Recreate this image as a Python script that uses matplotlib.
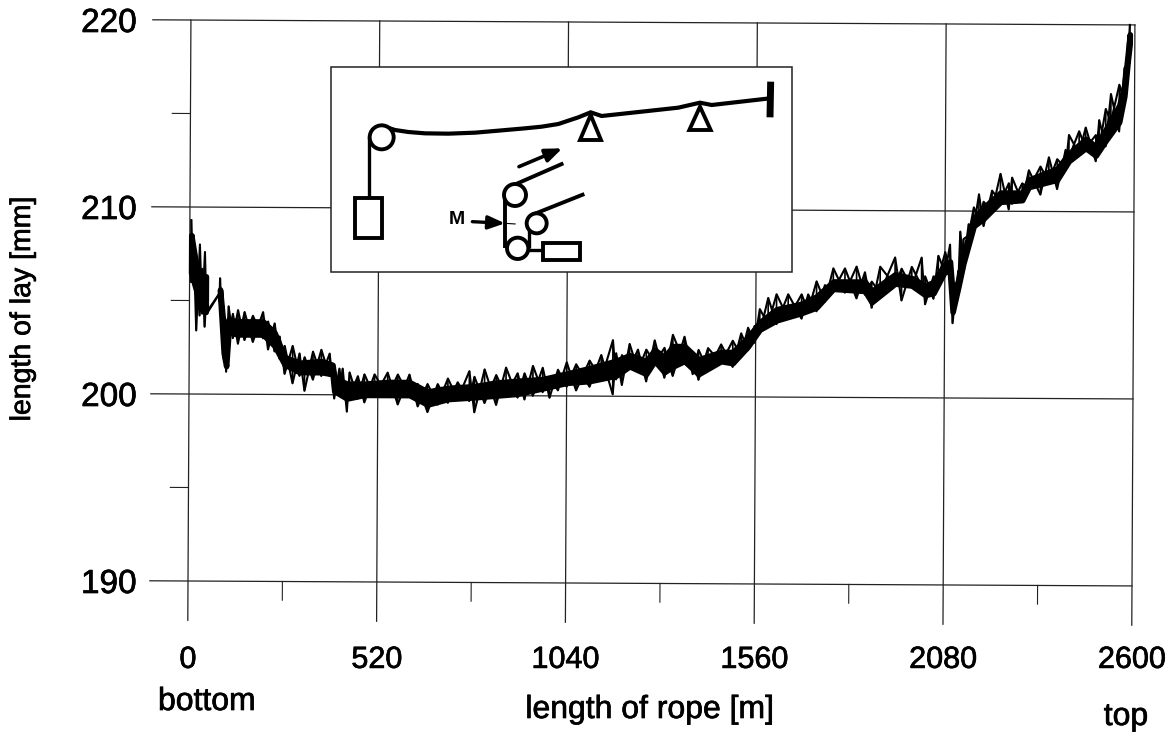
import matplotlib
matplotlib.use('Agg')
import matplotlib.pyplot as plt
import matplotlib.patheffects as pe
from matplotlib.patches import Circle, Rectangle, Polygon
from matplotlib.transforms import Affine2D

plt.rcParams['font.family'] = ['Liberation Sans', 'DejaVu Sans']

x_major = [0, 520, 1040, 1560, 2080, 2600]
x_minor = [260, 780, 1300, 1820, 2340]
y_major = [190, 200, 210, 220]
y_minor = [195, 205, 215]

# noise hairs: length of rope [m], with the upper and lower reach of the trace [mm]
rope = [4, 10, 19, 28, 35, 42, 47, 48, 83, 84, 88, 95, 102, 108, 120, 134, 152, 175, 203, 217,
        235, 249, 263, 285, 304, 318, 341, 364, 387, 400, 414, 423, 435, 442, 465, 483, 511, 547,
        575, 607, 630, 657, 685, 713, 740, 772, 786, 814, 846, 873, 905, 924, 947, 974, 993, 1016,
        1040, 1066, 1103, 1135, 1167, 1176, 1192, 1213, 1236, 1259, 1282, 1309, 1332, 1364, 1387,
        1403, 1429, 1465, 1497, 1520, 1539, 1557, 1571, 1594, 1617, 1649, 1686, 1704, 1727, 1750,
        1773, 1805, 1837, 1860, 1879, 1902, 1943, 1961, 1989, 2016, 2026, 2049, 2062, 2081, 2094,
        2102, 2117, 2122, 2131, 2145, 2159, 2173, 2186, 2209, 2232, 2255, 2264, 2292, 2310, 2342,
        2365, 2388, 2411, 2420, 2448, 2466, 2494, 2503, 2521, 2535, 2558, 2572, 2581, 2586]
lay_upper = [209.3, 208.5, 207.2, 208.0, 206.7, 207.6, 205.3, 204.4, 205.4, 206.2, 205.6, 204.0, 203.3,
             204.7, 204.3, 204.5, 204.4, 204.2, 204.4, 203.9, 203.8, 203.1, 202.6, 202.6, 202.2, 202.0,
             202.3, 202.4, 202.2, 201.5, 201.4, 201.4, 200.6, 201.2, 201.0, 201.1, 201.1, 201.2, 201.1,
             201.1, 200.6, 200.6, 200.6, 200.9, 200.7, 201.3, 201.0, 201.4, 201.1, 201.5, 201.2, 201.2,
             201.6, 201.5, 201.0, 201.4, 201.8, 201.7, 201.9, 202.2, 203.0, 202.3, 202.2, 202.8, 202.5,
             202.5, 203.0, 202.6, 203.3, 203.2, 202.2, 202.5, 202.6, 202.8, 203.0, 203.4, 203.7, 203.8,
             204.7, 205.3, 205.5, 205.5, 205.5, 205.5, 206.2, 206.0, 206.9, 206.9, 207.0, 206.7, 206.2,
             207.0, 207.5, 206.9, 207.0, 207.5, 206.5, 206.5, 207.6, 207.8, 208.2, 205.9, 206.8, 208.9,
             208.5, 209.3, 210.2, 210.9, 210.5, 211.1, 212.0, 211.5, 211.8, 211.5, 212.2, 212.4, 212.9,
             212.8, 213.3, 214.1, 214.3, 214.5, 214.1, 214.9, 215.5, 216.3, 216.8, 217.7, 219.1, 220.0]
lay_lower = [206.0, 205.9, 203.4, 204.2, 204.3, 203.6, 204.3, 204.3, 205.4, 205.4, 204.6, 201.9, 201.2,
             203.2, 203.0, 202.7, 202.9, 202.8, 203.0, 202.4, 202.3, 201.9, 201.1, 200.6, 201.0, 200.2,
             200.8, 201.0, 201.0, 199.8, 200.2, 200.0, 199.1, 199.9, 199.8, 199.6, 199.9, 199.9, 199.5,
             199.9, 199.4, 199.1, 199.5, 199.6, 199.8, 199.7, 199.1, 199.6, 199.5, 200.0, 199.9, 199.8,
             200.0, 200.2, 199.9, 200.3, 200.5, 200.3, 200.5, 200.9, 200.1, 200.9, 200.6, 201.5, 201.4,
             200.8, 201.8, 201.0, 201.1, 201.8, 201.2, 200.9, 201.4, 201.8, 201.6, 202.2, 202.5, 202.9,
             203.4, 203.9, 203.9, 204.2, 204.2, 204.6, 204.6, 205.1, 205.7, 205.6, 205.3, 205.5, 204.8,
             205.6, 206.0, 205.2, 205.9, 206.0, 205.0, 205.3, 206.4, 206.7, 206.6, 204.0, 205.9, 205.9,
             207.1, 208.7, 209.1, 209.6, 209.2, 210.0, 210.5, 210.1, 210.4, 210.5, 211.2, 210.9, 211.6,
             211.2, 212.3, 212.9, 213.1, 213.4, 212.7, 213.4, 213.5, 214.8, 214.3, 215.9, 217.9, 218.6]

# solid body of the trace, in two stretches either side of the gap bridged by a thin line
core_x = [4, 19, 30, 45, 84, 95, 102, 108, 134, 203, 235, 263, 304, 364, 395, 400, 435, 483,
          547, 607, 657, 713, 786, 846, 905, 974, 1040, 1103, 1176, 1213, 1259, 1282, 1309, 1332, 1364,
          1403, 1465, 1497, 1539, 1571, 1617, 1686, 1727, 1773, 1860, 1879, 1943, 1989, 2026, 2049,
          2081, 2094, 2102, 2117, 2131, 2159, 2186, 2232, 2292, 2310, 2388, 2420, 2466, 2494, 2521,
          2558, 2572, 2581, 2586]
core_upper = [208.5, 206.8, 206.3, 206.3, 205.6, 203.5, 203.0, 204.0, 203.9, 203.9, 203.3,
              202.0, 201.7, 201.8, 201.6, 200.9, 200.6, 200.6, 200.7, 200.7, 200.2, 200.4, 200.5, 200.7,
              200.8, 200.9, 201.2, 201.5, 201.9, 202.2, 201.9, 202.5, 202.1, 202.7, 202.7, 202.0, 202.4,
              202.4, 203.2, 204.0, 204.7, 205.0, 205.4, 206.2, 206.2, 205.7, 206.6, 206.4, 206.0, 206.2,
              207.2, 207.3, 205.5, 206.3, 207.7, 209.6, 210.2, 211.0, 211.0, 211.7, 212.3, 213.1, 213.9,
              213.5, 214.4, 215.7, 216.8, 218.5, 219.5]
core_lower = [206.5, 205.5, 204.6, 204.4, 205.4, 202.2, 201.5, 203.3, 203.2, 203.2, 202.6,
              201.6, 201.2, 201.2, 201.1, 200.2, 199.8, 200.0, 200.0, 200.0, 199.5, 199.8, 199.9, 200.0,
              200.1, 200.4, 200.7, 200.8, 201.1, 201.6, 201.2, 201.9, 201.3, 201.6, 201.9, 201.2, 201.9,
              201.8, 202.7, 203.6, 204.1, 204.5, 204.8, 205.8, 205.7, 205.1, 206.1, 206.0, 205.5, 205.6,
              206.8, 206.7, 204.6, 205.9, 207.2, 209.2, 209.6, 210.5, 210.6, 211.3, 211.7, 212.7, 213.4,
              213.0, 213.8, 214.8, 216.2, 218.1, 219.0]

W, H = 1172, 738
fig = plt.figure(figsize=(W / 100, H / 100), dpi=100, facecolor='white')
ax = fig.add_axes([188 / W, 1 - 581 / H, 944 / W, 561 / H])
ax.set_xlim(0, 2600)
ax.set_ylim(190, 220)
for s in ax.spines.values():
    s.set_visible(False)

# the scan sits slightly crooked on the page
tilt = ax.transData + Affine2D().rotate_deg_around(188, H - 581, -0.3)
line_col = '#222222'

for v in x_major:
    ax.plot([v, v], [187.9, 220], color=line_col, lw=0.9, transform=tilt, clip_on=False)
for v in x_minor:
    ax.plot([v, v], [189, 190], color=line_col, lw=0.8, transform=tilt, clip_on=False)
for v in y_major:
    ax.plot([-105, 2600], [v, v], color=line_col, lw=0.9, transform=tilt, clip_on=False)
for v in y_minor:
    ax.plot([-50, 0], [v, v], color=line_col, lw=0.8, transform=tilt, clip_on=False)

# thick edge on the fill fattens the body up to what the print shows
for a, b in [(0, 4), (4, len(core_x))]:
    ax.fill_between(core_x[a:b], core_lower[a:b], core_upper[a:b], facecolor='black', edgecolor='black',
                    lw=4, transform=tilt, clip_on=False, zorder=3)
ax.vlines(rope, lay_lower, lay_upper, color='black', lw=1.2, transform=tilt, clip_on=False, zorder=3)

# two zigzags between the reaches, one in each phase, make the fine noise of the trace
for phase in (0, 1):
    zig = [lay_upper[i] if (i + phase) % 2 == 0 else lay_lower[i] for i in range(len(rope))]
    ax.plot(rope, zig, color='black', lw=1.5, transform=tilt, clip_on=False, zorder=3)

ax.set_xticks(x_major)
ax.set_yticks(y_major)
ax.tick_params(axis='x', length=0, pad=46, labelsize=22)
ax.tick_params(axis='y', length=0, pad=37, labelsize=24)

fig.text(23 / W, 1 - 309 / H, 'length of lay [mm]', rotation=90, ha='center', va='center', fontsize=20.5)
fig.text(650 / W, 1 - 710 / H, 'length of rope [m]', ha='center', va='center', fontsize=23)
fig.text(207 / W, 1 - 702 / H, 'bottom', ha='center', va='center', fontsize=23)
fig.text(1126 / W, 1 - 717 / H, 'top', ha='center', va='center', fontsize=23)

# inset sketch of the test rig, drawn in its own little coordinate box
ins = fig.add_axes([325 / W, 1 - 280 / H, 475 / W, 220 / H], zorder=5)
ins.set_xlim(0, 1425)
ins.set_ylim(660, 0)
ins.axis('off')
ins.add_patch(Rectangle((18, 22), 1382, 613, fc='white', ec=line_col, lw=1.1))


def rope_line(xs, ys, lw=2.4):
    ins.plot(xs, ys, color='black', lw=lw, solid_capstyle='butt')


def pulley(x, y, r):
    ins.add_patch(Circle((x, y), r, fc='white', ec='black', lw=2.8, zorder=4))


rope_line([133, 133], [232, 415])
rope_line([170, 210, 250, 300, 370, 450, 520, 600, 650, 700, 760, 797, 830, 950, 1060, 1125, 1160, 1335],
          [197, 210, 216, 220, 221, 218, 212, 205, 200, 192, 172, 157, 168, 155, 143, 128, 135, 115], lw=3)
pulley(170, 232, 36)
ins.add_patch(Rectangle((90, 415), 82, 120, fc='white', ec='black', lw=2.8))
ins.add_patch(Polygon([(797, 165), (765, 240), (828, 240)], fc='white', ec='black', lw=2.8))
ins.add_patch(Polygon([(1125, 140), (1093, 210), (1157, 210)], fc='white', ec='black', lw=2.8))
rope_line([1337, 1335], [65, 172], lw=5)

ins.annotate('', xy=(712, 265), xytext=(582, 320),
             arrowprops=dict(arrowstyle='-|>,head_length=1.0,head_width=0.4', color='black', lw=2.6,
                             shrinkA=0, shrinkB=0))
rope_line([555, 715], [380, 310], lw=2.8)
rope_line([540, 540], [405, 565], lw=2.8)
rope_line([612, 612], [495, 565])
rope_line([620, 778], [465, 402], lw=2.8)
rope_line([610, 655], [570, 570])
pulley(570, 405, 33)
pulley(578, 565, 32)
pulley(635, 490, 30)
ins.add_patch(Rectangle((655, 548), 110, 52, fc='white', ec='black', lw=2.8))
ins.text(395, 478, 'M', ha='center', va='center', fontsize=14, fontweight='bold')
ins.annotate('', xy=(540, 490), xytext=(442, 485),
             arrowprops=dict(arrowstyle='-|>,head_length=1.0,head_width=0.4', color='black', lw=2.4,
                             shrinkA=0, shrinkB=0))
rope_line([540, 572], [490, 492], lw=0.8)

# scanned print looks a bit heavier than the plain font
heavy = [pe.withStroke(linewidth=0.5, foreground='black')]
for t in ax.get_xticklabels() + ax.get_yticklabels() + fig.texts:
    t.set_path_effects(heavy)

fig.savefig('out.png', dpi=100)
